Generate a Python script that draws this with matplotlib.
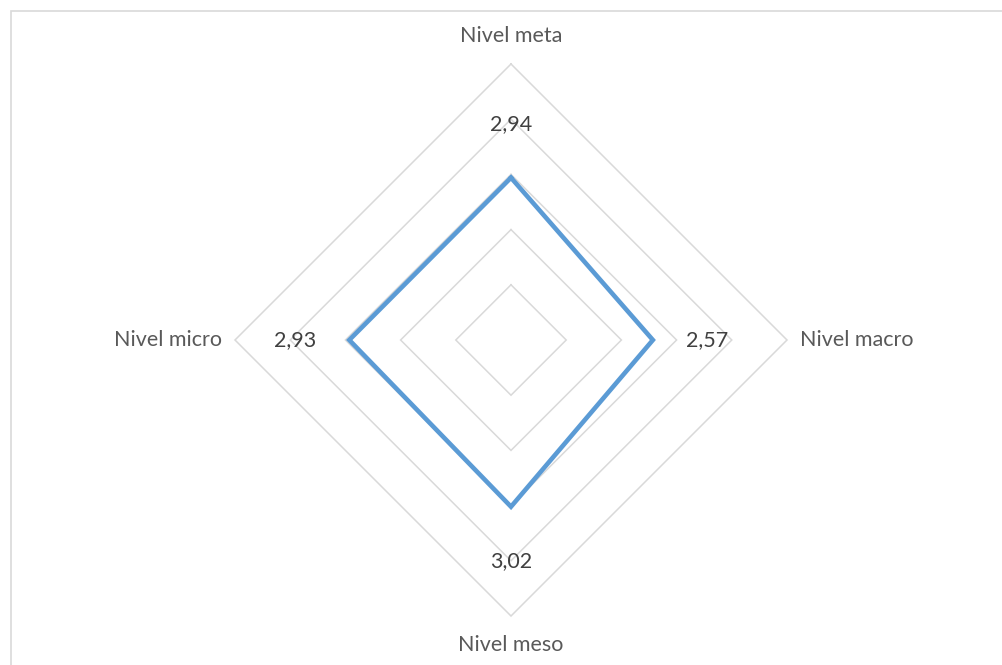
import numpy as np
import matplotlib
matplotlib.use("Agg")
import matplotlib.pyplot as plt
from matplotlib.patches import Rectangle

categories = ["Nivel meta", "Nivel macro", "Nivel meso", "Nivel micro"]
values = [2.94, 2.57, 3.02, 2.93]
value_labels = ["2,94", "2,57", "3,02", "2,93"]
grid_levels = [1, 2, 3, 4, 5]

W, H = 1002, 665
fig = plt.figure(figsize=(W / 100, H / 100), dpi=100)
fig.patch.set_facecolor("white")

# chart border
fig.add_artist(Rectangle((10.5 / W, -0.05), 1.1, (H - 10.5) / H + 0.05,
                         transform=fig.transFigure, fill=False,
                         edgecolor="#D9D9D9", linewidth=1.2))

cx, cy, R = 511, 340, 276
ax = fig.add_axes([(cx - R) / W, (H - cy - R) / H, 2 * R / W, 2 * R / H],
                  projection="polar")
ax.set_theta_offset(np.pi / 2)
ax.set_theta_direction(-1)
ax.set_ylim(0, 5)
ax.grid(False)
ax.set_xticks([])
ax.set_yticks([])
ax.spines["polar"].set_visible(False)
ax.patch.set_alpha(0)

n = len(categories)
angles = np.arange(n) * 2 * np.pi / n
closed_angles = np.concatenate([angles, angles[:1]])

for lvl in grid_levels:
    ax.plot(closed_angles, [lvl] * (n + 1), color="#D9D9D9", lw=1.1,
            solid_joinstyle="miter", zorder=1, clip_on=False)

vals = np.array(values + values[:1])
ax.plot(closed_angles, vals, color="#5B9BD5", lw=3.3,
        solid_joinstyle="miter", zorder=3, clip_on=False)

font = "Lato"
for a, v, lab in zip(angles, values, value_labels):
    ax.text(a, v + 0.98, lab, ha="center", va="center", fontsize=15.5,
            color="#404040", family=font, zorder=4)

# category labels
label_r = [5.5, 5.24, 5.52, 5.24]
has = ["center", "left", "center", "right"]
for a, r, lab, ha in zip(angles, label_r, categories, has):
    ax.text(a, r, lab, ha=ha, va="center", fontsize=15.5, color="#595959",
            family=font, clip_on=False)

fig.savefig("out.png", dpi=100, facecolor="white")
